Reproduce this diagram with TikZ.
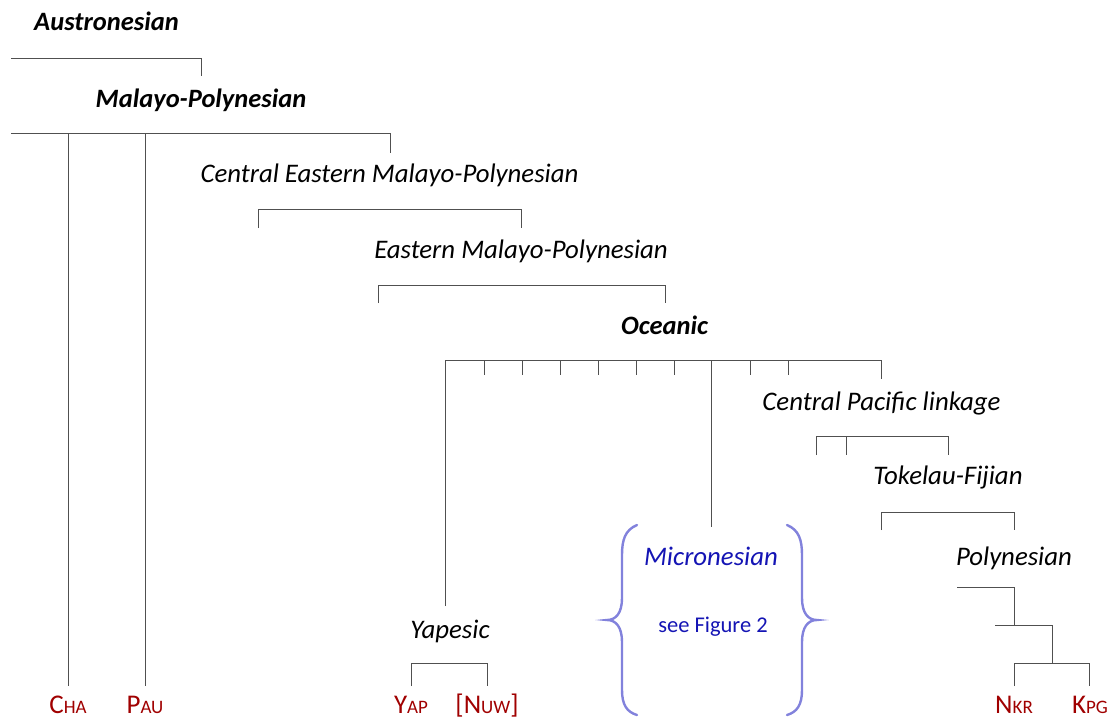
\documentclass[tikz,border=0pt]{standalone}
\usepackage{fontspec}
\setmainfont{Carlito}
\definecolor{lnc}{RGB}{80,80,80}
\definecolor{redl}{RGB}{160,0,0}
\definecolor{bluel}{RGB}{20,20,180}
\definecolor{bracec}{RGB}{130,130,220}
\tikzset{
 lbl/.style={anchor=base, inner sep=0pt, font=\fontsize{26.8}{30}\selectfont\itshape},
 blbl/.style={anchor=base, inner sep=0pt, font=\fontsize{26.5}{30}\selectfont\bfseries\itshape},
 leaf/.style={anchor=base, inner sep=0pt, text=redl, font=\fontsize{27}{30}\selectfont},
 br/.style={draw=lnc, line width=0.9pt},
 bracestyle/.style={draw=bracec, line width=2.4pt, line cap=round}
}
\newcommand{\fsc}[2]{#1{\fontsize{19}{22}\selectfont #2}}
\begin{document}
\begin{tikzpicture}[x=1pt,y=-1pt]
\useasboundingbox (0,0) rectangle (1109,716);
% labels
\node[blbl] (an) at (106.5,30) {Austronesian};
\node[blbl] (mp) at (201,107) {Malayo-Polynesian};
\node[lbl] (cemp) at (389.5,182) {Central Eastern Malayo-Polynesian};
\node[lbl] (emp) at (521,258) {Eastern Malayo-Polynesian};
\node[blbl] (oc) at (664.5,334) {Oceanic};
\node[lbl] (cpl) at (881.5,410) {Central Pacific linkage};
\node[lbl] (tf) at (948,484) {Tokelau-Fijian};
\node[lbl] (pn) at (1014,565) {Polynesian};
\node[lbl] (ya) at (450,638) {Yapesic};
\node[lbl, text=bluel] (mic) at (711,565) {Micronesian};
\node[anchor=base, inner sep=0pt, text=bluel, font=\fontsize{22.5}{26}\selectfont] (fig) at (713,632) {see Figure 2};
% leaves
\node[leaf] (cha) at (68,713) {\fsc{C}{HA}};
\node[leaf] (pau) at (145,713) {\fsc{P}{AU}};
\node[leaf] (yap) at (411,713) {\fsc{Y}{AP}};
\node[leaf] (nuw) at (487,713) {[\fsc{N}{UW}]};
\node[leaf] (nkr) at (1014,713) {\fsc{N}{KR}};
\node[leaf] (kpg) at (1090,713) {\fsc{K}{PG}};
% Austronesian
\coordinate (anL) at (11,58); \coordinate (anR) at (201,58); \coordinate (anT) at (201,76);
\draw[br] (anL) -- (anR) -- (anT);
% Malayo-Polynesian
\coordinate (mpL) at (11,133); \coordinate (mpR) at (390,133); \coordinate (mpT) at (390,153);
\draw[br] (mpL) -- (mpR) -- (mpT);
\coordinate (chaT) at (68,133); \coordinate (chaB) at (68,686);
\coordinate (pauT) at (145,133); \coordinate (pauB) at (145,686);
\draw[br] (chaT) -- (chaB);
\draw[br] (pauT) -- (pauB);
% CEMP
\coordinate (ceL) at (258,209); \coordinate (ceR) at (521,209);
\coordinate (ceLb) at (258,228); \coordinate (ceRb) at (521,228);
\draw[br] (ceLb) -- (ceL) -- (ceR) -- (ceRb);
% EMP
\coordinate (emL) at (378,285); \coordinate (emR) at (665,285);
\coordinate (emLb) at (378,303); \coordinate (emRb) at (665,303);
\draw[br] (emLb) -- (emL) -- (emR) -- (emRb);
% Oceanic
\coordinate (ocL) at (445,360); \coordinate (ocR) at (881,360);
\coordinate (ocLb) at (445,606); \coordinate (ocRb) at (881,379);
\draw[br] (ocLb) -- (ocL) -- (ocR) -- (ocRb);
\foreach \t in {484,522,560,598,636,674,750,788}{
  \coordinate (tk\t) at (\t,360); \coordinate (tb\t) at (\t,375);
  \draw[br] (tk\t) -- (tb\t);
}
\coordinate (micT) at (711,360); \coordinate (micB) at (711,527);
\draw[br] (micT) -- (micB);
% Central Pacific
\coordinate (cpL) at (816,436); \coordinate (cpR) at (948,436);
\coordinate (cpLb) at (816,455); \coordinate (cpRb) at (948,455);
\coordinate (cpM) at (846,436); \coordinate (cpMb) at (846,455);
\draw[br] (cpLb) -- (cpL) -- (cpR) -- (cpRb);
\draw[br] (cpM) -- (cpMb);
% Tokelau-Fijian
\coordinate (tfL) at (881,512); \coordinate (tfR) at (1014,512);
\coordinate (tfLb) at (881,530); \coordinate (tfRb) at (1014,530);
\draw[br] (tfLb) -- (tfL) -- (tfR) -- (tfRb);
% Polynesian
\coordinate (p1L) at (957,587); \coordinate (p1R) at (1014,587); \coordinate (p1B) at (1014,625);
\draw[br] (p1L) -- (p1R) -- (p1B);
\coordinate (p2L) at (995,625); \coordinate (p2R) at (1052,625); \coordinate (p2B) at (1052,663);
\draw[br] (p2L) -- (p2R) -- (p2B);
\coordinate (p3L) at (1014,663); \coordinate (p3R) at (1089,663);
\coordinate (p3Lb) at (1014,686); \coordinate (p3Rb) at (1089,686);
\draw[br] (p3Lb) -- (p3L) -- (p3R) -- (p3Rb);
% Yapesic
\coordinate (yL) at (411,663); \coordinate (yR) at (487,663);
\coordinate (yLb) at (411,686); \coordinate (yRb) at (487,686);
\draw[br] (yLb) -- (yL) -- (yR) -- (yRb);
% braces
\draw[bracestyle] (637,525) .. controls (625,530) and (622,540) .. (622,555) -- (622,598)
  .. controls (622,613) and (616,620) .. (607,620)
  .. controls (616,620) and (622,627) .. (622,642) -- (622,690)
  .. controls (622,705) and (627,712) .. (637,715);
\draw[bracestyle] (787,525) .. controls (799,530) and (802,540) .. (802,555) -- (802,598)
  .. controls (802,613) and (808,620) .. (817,620)
  .. controls (808,620) and (802,627) .. (802,642) -- (802,690)
  .. controls (802,705) and (797,712) .. (787,715);
\end{tikzpicture}
\end{document}
